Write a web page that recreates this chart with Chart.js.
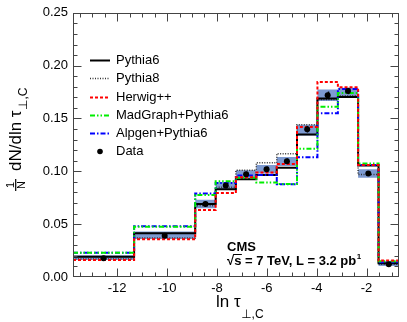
<!DOCTYPE html>
<html>
<head>
<meta charset="utf-8">
<script src="https://cdn.jsdelivr.net/npm/chart.js@4.4.1/dist/chart.umd.min.js"></script>
<style>
  html, body { margin: 0; padding: 0; background: #fff; }
  canvas { display: block; }
</style>
</head>
<body>
<canvas id="tauChart" width="407" height="322"></canvas>
<script>
// ---------- data ----------

// bin edges in ln(tau_perp,C)
const binEdges = [-13.77, -11.32, -8.87, -8.05, -7.24, -6.42, -5.60, -4.79, -3.97, -3.15, -2.34, -1.52, -0.70];

const dataValues = [0.0178, 0.0390, 0.0690, 0.0865, 0.0972, 0.1020, 0.1096, 0.1398, 0.1720, 0.1760, 0.0980, 0.0120];
const dataErrors = [0.0010, 0.0015, 0.0025, 0.0025, 0.0025, 0.0025, 0.0025, 0.0030, 0.0035, 0.0030, 0.0020, 0.0010];
const bandLow   = [0.0160, 0.0360, 0.0650, 0.0830, 0.0930, 0.0980, 0.1050, 0.1340, 0.1665, 0.1700, 0.0940, 0.0105];
const bandHigh  = [0.0205, 0.0430, 0.0730, 0.0900, 0.1010, 0.1060, 0.1135, 0.1440, 0.1775, 0.1790, 0.1020, 0.0150];

const pythia6  = [0.0192, 0.0414, 0.0690, 0.0830, 0.0926, 0.0965, 0.1034, 0.1349, 0.1690, 0.1704, 0.1055, 0.0130];
const pythia8  = [0.0170, 0.0370, 0.0675, 0.0850, 0.1010, 0.1080, 0.1167, 0.1440, 0.1680, 0.1715, 0.0970, 0.0120];
const herwig   = [0.0160, 0.0358, 0.0633, 0.0795, 0.0945, 0.0988, 0.1070, 0.1420, 0.1846, 0.1796, 0.1060, 0.0155];
const madgraph = [0.0230, 0.0475, 0.0775, 0.0905, 0.0940, 0.0895, 0.0880, 0.1213, 0.1610, 0.1740, 0.1075, 0.0150];
const alpgen   = [0.0230, 0.0480, 0.0790, 0.0890, 0.0960, 0.0965, 0.0877, 0.1133, 0.1550, 0.1780, 0.1060, 0.0140];

const xTickValues = [-12, -10, -8, -6, -4, -2];
const yTickValues = [0, 0.05, 0.10, 0.15, 0.20, 0.25];

const FONT = '"Liberation Sans", Arial, "DejaVu Sans", sans-serif';

// ---------- helpers ----------

// points for a stepped histogram: one per left edge, plus the last right edge
function histPoints(values) {
    const pts = values.map((v, i) => ({ x: binEdges[i], y: v }));
    pts.push({ x: binEdges[values.length], y: values[values.length - 1] });
    return pts;
}

function binCenters() {
    return dataValues.map((v, i) => ({ x: (binEdges[i] + binEdges[i + 1]) / 2, y: v }));
}

const mcSeries = [
    { label: "Pythia6", values: pythia6, color: "#000000", dash: [], width: 2 },
    { label: "Pythia8", values: pythia8, color: "#333333", dash: [1, 1.5], width: 1.5 },
    { label: "Herwig++", values: herwig, color: "#ff0000", dash: [3, 2], width: 2 },
    { label: "MadGraph+Pythia6", values: madgraph, color: "#00ee00", dash: [5, 2, 1.5, 2, 1.5, 2], width: 2 },
    { label: "Alpgen+Pythia6", values: alpgen, color: "#0000ff", dash: [5, 2, 1.5, 2], width: 2 },
];

// draw order (lower = on top)
const drawOrder = { "Herwig++": 2, "MadGraph+Pythia6": 3, "Alpgen+Pythia6": 4, "Pythia6": 5, "Pythia8": 6 };

// ---------- plugins: frame, inward ticks, titles, legend, text ----------

const decorPlugin = {
    id: "decor",
    afterDatasetsDraw(chart) {
        const ctx = chart.ctx;
        const xs = chart.scales.x;
        const ys = chart.scales.y;
        const ca = chart.chartArea;

        // small vertical error bars on data points
        ctx.save();
        ctx.strokeStyle = "#000";
        ctx.lineWidth = 1.5;
        dataValues.forEach((v, i) => {
            const px = Math.round(xs.getPixelForValue((binEdges[i] + binEdges[i + 1]) / 2)) + 0.5;
            ctx.beginPath();
            ctx.moveTo(px, ys.getPixelForValue(v - dataErrors[i]));
            ctx.lineTo(px, ys.getPixelForValue(v + dataErrors[i]));
            ctx.stroke();
        });
        ctx.restore();
    },
    afterDraw(chart) {
        const ctx = chart.ctx;
        const xs = chart.scales.x;
        const ys = chart.scales.y;
        const ca = chart.chartArea;
        const L = Math.round(ca.left) + 0.5, R = Math.round(ca.right) - 0.5;
        const T = Math.round(ca.top) + 0.5, B = Math.round(ca.bottom) - 0.5;

        ctx.save();
        ctx.strokeStyle = "#444";
        ctx.lineWidth = 1;
        ctx.strokeRect(L, T, R - L, B - T);

        // x ticks: major every 2, minor every 0.5
        ctx.beginPath();
        for (let v = -13.5; v <= -0.75; v += 0.5) {
            const major = xTickValues.includes(v);
            const len = major ? 8 : 4;
            const px = Math.round(xs.getPixelForValue(v)) + 0.5;
            ctx.moveTo(px, B); ctx.lineTo(px, B - len);
            ctx.moveTo(px, T); ctx.lineTo(px, T + len);
        }
        // y ticks: major every 0.05, minor every 0.01
        for (let k = 1; k < 25; k++) {
            const v = k / 100;
            const len = k % 5 === 0 ? 8 : 4;
            const py = Math.round(ys.getPixelForValue(v)) + 0.5;
            ctx.moveTo(L, py); ctx.lineTo(L + len, py);
            ctx.moveTo(R, py); ctx.lineTo(R - len, py);
        }
        ctx.stroke();
        ctx.restore();

        // x axis title
        ctx.save();
        ctx.fillStyle = "#000";
        ctx.textBaseline = "alphabetic";
        ctx.font = "17px " + FONT;
        ctx.fillText("ln τ", 216, 307);
        const wx = ctx.measureText("ln τ").width;
        ctx.font = "12px " + FONT;
        ctx.fillText("⊥,C", 216 + wx + 0.5, 318);
        ctx.restore();

        // y axis title (rotated)
        ctx.save();
        ctx.fillStyle = "#000";
        ctx.strokeStyle = "#000";
        ctx.translate(21, 195);
        ctx.rotate(-Math.PI / 2);
        ctx.font = "11px " + FONT;
        ctx.textAlign = "center";
        ctx.fillText("1", 10, -7);
        ctx.fillText("N", 10, 4);
        ctx.lineWidth = 1.2;
        ctx.beginPath();
        ctx.moveTo(4, -5.3); ctx.lineTo(16, -5.3);
        ctx.stroke();
        ctx.textAlign = "left";
        ctx.font = "17px " + FONT;
        ctx.fillText("dN/dln τ", 24, 0);
        const wy = ctx.measureText("dN/dln τ").width;
        ctx.font = "12px " + FONT;
        ctx.fillText("⊥,C", 24 + wy + 0.5, 6);
        ctx.restore();

        // legend
        ctx.save();
        ctx.font = "13px " + FONT;
        ctx.textBaseline = "middle";
        ctx.fillStyle = "#000";
        const rowY0 = 60, rowStep = 18.3;
        mcSeries.forEach((s, i) => {
            const y = Math.round(rowY0 + i * rowStep) + 0.5;
            ctx.strokeStyle = s.color;
            ctx.lineWidth = s.width;
            ctx.setLineDash(s.dash);
            ctx.beginPath();
            ctx.moveTo(90, y); ctx.lineTo(110, y);
            ctx.stroke();
            ctx.fillText(s.label, 116, y);
        });
        ctx.setLineDash([]);
        const dy = rowY0 + mcSeries.length * rowStep;
        ctx.beginPath();
        ctx.arc(100, dy, 2.8, 0, Math.PI * 2);
        ctx.fill();
        ctx.fillText("Data", 116, dy);
        ctx.restore();

        // CMS label
        ctx.save();
        ctx.fillStyle = "#000";
        ctx.strokeStyle = "#000";
        ctx.textBaseline = "alphabetic";
        ctx.font = "bold 13px " + FONT;
        ctx.fillText("CMS", 227, 251);
        ctx.fillText("√", 227, 265);
        const wr = ctx.measureText("√").width;
        const rest = "s = 7 TeV, L = 3.2 pb";
        ctx.fillText(rest, 227 + wr, 265);
        const ws = ctx.measureText("s").width;
        ctx.lineWidth = 1;
        ctx.beginPath();
        ctx.moveTo(227 + wr - 1, 254.5); ctx.lineTo(227 + wr + ws + 0.5, 254.5);
        ctx.stroke();
        const wrest = ctx.measureText(rest).width;
        ctx.font = "bold 8px " + FONT;
        ctx.fillText("1", 227 + wr + wrest + 0.5, 259);
        ctx.restore();
    },
};

// ---------- chart ----------

const datasets = [];

mcSeries.forEach((s) => {
    datasets.push({
        label: s.label,
        data: histPoints(s.values),
        stepped: "before",
        borderColor: s.color,
        borderWidth: s.width,
        borderDash: s.dash,
        pointRadius: 0,
        fill: false,
        order: drawOrder[s.label],
    });
});

datasets.push({
    label: "band-high",
    data: histPoints(bandHigh),
    stepped: "before",
    borderWidth: 0,
    borderColor: "rgba(0,0,0,0)",
    backgroundColor: "rgba(88,126,196,0.78)",
    pointRadius: 0,
    fill: "+1",
    order: 10,
});
datasets.push({
    label: "band-low",
    data: histPoints(bandLow),
    stepped: "before",
    borderWidth: 0,
    borderColor: "rgba(0,0,0,0)",
    pointRadius: 0,
    fill: false,
    order: 11,
});

datasets.push({
    label: "Data",
    data: binCenters(),
    showLine: false,
    pointRadius: 3,
    pointBackgroundColor: "#000",
    pointBorderColor: "#000",
    pointBorderWidth: 0,
    order: 0,
});

Chart.defaults.font.family = FONT;
Chart.defaults.font.size = 13;
Chart.defaults.color = "#000";

new Chart(document.getElementById("tauChart"), {
    type: "line",
    data: { datasets },
    options: {
        responsive: false,
        animation: false,
        events: [],
        layout: { padding: { top: 7, right: 8, left: 0, bottom: 0 } },
        scales: {
            x: {
                type: "linear",
                min: binEdges[0],
                max: binEdges[binEdges.length - 1],
                grid: { display: false, drawTicks: false },
                border: { display: false },
                afterBuildTicks: (s) => { s.ticks = xTickValues.map((v) => ({ value: v })); },
                afterFit: (s) => { s.height = 45; },
                ticks: {
                    autoSkip: false,
                    maxRotation: 0,
                    padding: 4,
                    color: "#000",
                    callback: (v) => String(v),
                },
            },
            y: {
                type: "linear",
                min: 0,
                max: 0.25,
                grid: { display: false, drawTicks: false },
                border: { display: false },
                afterBuildTicks: (s) => { s.ticks = yTickValues.map((v) => ({ value: v })); },
                afterFit: (s) => { s.width = 73; },
                ticks: {
                    autoSkip: false,
                    padding: 5,
                    color: "#000",
                    callback: (v) => Number(v).toFixed(2),
                },
            },
        },
        plugins: {
            legend: { display: false },
            tooltip: { enabled: false },
        },
    },
    plugins: [decorPlugin],
});
</script>
</body>
</html>
